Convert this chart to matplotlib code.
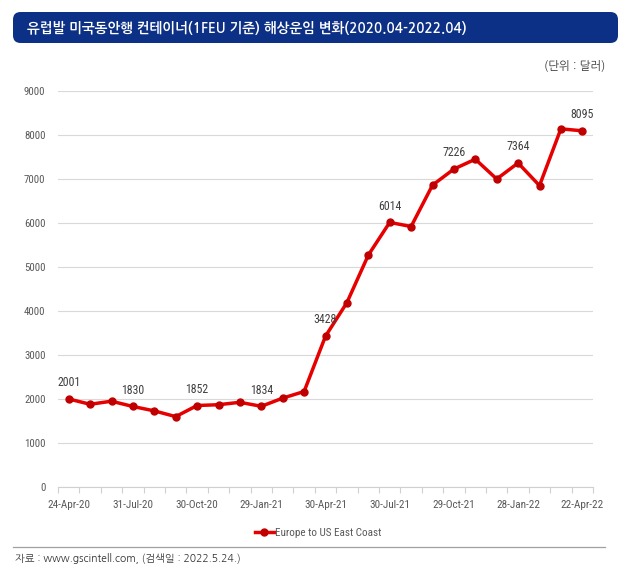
import matplotlib
matplotlib.use("Agg")
import matplotlib.pyplot as plt
from matplotlib.patches import FancyBboxPatch
from matplotlib.lines import Line2D
import numpy as np

TITLE = "유럽발 미국동안행 컨테이너(1FEU 기준) 해상운임 변화(2020.04-2022.04)"
UNIT = "(단위 : 달러)"
SOURCE = "자료 : www.gscintell.com, (검색일 : 2022.5.24.)"
SERIES = "Europe to US East Coast"

# monthly freight rate, Apr-2020 .. Apr-2022 (USD / FEU)
values = [2001, 1880, 1950, 1830, 1730, 1600, 1852, 1870, 1925, 1834,
          2020, 2170, 3428, 4190, 5270, 6014, 5920, 6860, 7226, 7450,
          7000, 7364, 6850, 8140, 8095]
tick_pos = [0, 3, 6, 9, 12, 15, 18, 21, 24]
tick_labels = ["24-Apr-20", "31-Jul-20", "30-Oct-20", "29-Jan-21", "30-Apr-21",
               "30-Jul-21", "29-Oct-21", "28-Jan-22", "22-Apr-22"]
labeled = [0, 3, 6, 9, 12, 15, 18, 21, 24]

LAT = ["Roboto Condensed", "Carlito", "DejaVu Sans"]
KOR = ["NanumGothic", "Noto Sans CJK KR", "DejaVu Sans"]
RED = "#e60000"
DARK = "#c00000"
GRAY = "#595959"

W, H = 632, 579
fig = plt.figure(figsize=(W / 100, H / 100), dpi=100)
fig.patch.set_facecolor("white")

# title banner
fig.patches.append(FancyBboxPatch((13 / W, 1 - 43 / H), 605 / W, 31 / H,
                                  boxstyle="round,pad=0,rounding_size=0.012",
                                  transform=fig.transFigure, fc="#0c3085",
                                  ec="none", mutation_aspect=W / H))
fig.text(27 / W, 1 - 28 / H, TITLE, family=KOR, color="white", fontsize=9.8,
         fontweight="bold", va="center", ha="left")
fig.text(605 / W, 1 - 66 / H, UNIT, family=KOR, color="#333333", fontsize=8.3,
         va="center", ha="right")

x0, x1, y0, y1 = 58, 593, 487, 91
ax = fig.add_axes([x0 / W, 1 - y0 / H, (x1 - x0) / W, (y0 - y1) / H])
x = np.arange(len(values))
ax.plot(x, values, color=RED, lw=2.5, marker="o", ms=5, mfc=DARK, mec=DARK,
        zorder=3, solid_joinstyle="round")
for i in labeled:
    ax.annotate(f"{values[i]}", (x[i], values[i]), xytext=(0, 7),
                textcoords="offset points", ha="center", va="bottom",
                family=LAT, fontsize=8.6, color="#404040")

ax.set_xlim(-0.5, len(values) - 0.5)
ax.set_ylim(0, 9000)
ax.set_yticks(range(0, 9001, 1000))
ax.set_yticklabels([str(v) for v in range(0, 9001, 1000)], family=LAT,
                   fontsize=7.8, color=GRAY)
ax.set_xticks(tick_pos)
ax.set_xticklabels(tick_labels, family=LAT, fontsize=8.0, color=GRAY)
ax.set_xticks(np.arange(-0.5, len(values), 1), minor=True)
ax.tick_params(axis="x", which="major", length=0, pad=9)
ax.tick_params(axis="x", which="minor", length=4, color="#d0d0d0", width=0.8)
ax.tick_params(axis="y", length=0, pad=9)
ax.grid(axis="y", color="#d9d9d9", lw=0.8)
ax.set_axisbelow(True)
for s in ["top", "right", "left"]:
    ax.spines[s].set_visible(False)
ax.spines["bottom"].set_color("#d0d0d0")
ax.spines["bottom"].set_linewidth(0.8)

handle = Line2D([], [], color=RED, lw=2.5, marker="o", ms=5, mfc=DARK, mec=DARK)
fig.legend([handle], [SERIES], loc="center", bbox_to_anchor=(318 / W, 1 - 533 / H),
           frameon=False, handlelength=1.7, handletextpad=0.1,
           prop={"family": LAT, "size": 8.0}, labelcolor=GRAY)

fig.add_artist(Line2D([13 / W, 605 / W], [1 - 547 / H, 1 - 547 / H],
                      transform=fig.transFigure, color="#a0a0a0", lw=0.9))
fig.text(15 / W, 1 - 559 / H, SOURCE, family=KOR, fontsize=7.5, color="#333333",
         va="center", ha="left")

fig.savefig("out.png", dpi=100)
